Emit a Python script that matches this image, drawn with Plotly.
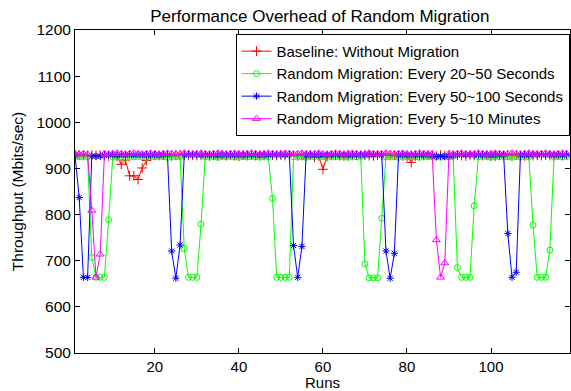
import plotly.graph_objects as go

runs = list(range(1, 119))

baseline = [
    928, 929, 928, 927, 929, 928, 929, 928, 927, 926,
    926, 909, 918, 884, 884, 876, 901, 917, 928,
    929, 928, 929, 928, 927, 929, 928, 929, 928, 929, 928,
    929, 928, 927, 929, 928, 929, 928, 929, 928, 927,
    929, 928, 929, 928, 929, 928, 927, 929, 928, 929,
    928, 929, 928, 927, 929, 928, 929, 924, 927,
    898,
    926, 928, 929, 928, 927, 929, 928, 929, 928, 929,
    928, 927, 929, 928, 929, 928, 929, 928, 927, 926,
    913,
    927, 929, 928, 929, 928, 927, 929, 928, 929,
    928, 929, 928, 927, 929, 928, 929, 928, 929, 928,
    927, 929, 928, 929, 928, 929, 928, 927, 929, 928,
    929, 928, 929, 928, 927, 929, 928, 929,
]

mig_20_50s = [
    926, 925, 926, 925,
    707, 664, 664, 664, 789,
    925, 926, 925, 924, 926, 925, 926, 925, 924, 926, 925, 926, 925, 924, 926, 925, 926,
    726, 664, 664, 664, 779,
    925, 926, 925, 924, 926, 925, 926, 925, 924, 926, 925, 926, 925, 924, 926, 925,
    835, 664, 664, 664, 664,
    925, 926, 925, 924, 926, 925, 926, 925, 924, 926, 925, 926, 925, 924, 926, 925, 926,
    693, 663, 663, 663, 792,
    925, 926, 925, 924, 926, 925, 926, 925, 924, 926, 925, 926, 925, 924, 926, 925, 926,
    685, 664, 664, 664, 819,
    925, 926, 925, 924, 926, 925, 926, 925, 924, 926, 925, 926, 925,
    777, 664, 664, 664, 723,
    925, 926, 925, 926,
]

mig_50_100s = [
    929,
    837, 664, 664,
    927, 926, 927, 928, 929, 930, 929, 930, 929, 930, 929, 930, 929, 930, 929, 930, 929, 930,
    930,
    721, 662, 734,
    929, 930, 929, 930, 929, 930, 929, 930, 929, 930, 929, 930, 929,
    930, 929, 930, 929, 930, 929, 930, 929, 930, 929, 930, 929, 930,
    733, 664, 731,
    929, 930, 929, 930, 929, 930, 929, 930, 929, 930, 929, 930, 929, 930, 929, 930, 929, 930, 929,
    721, 662, 716,
    929, 930, 929, 930, 929, 930, 929, 930, 927, 926, 927, 926, 927,
    928, 929, 930, 929, 930, 929, 930, 929, 930, 929, 930, 929, 930,
    759, 664, 675,
    929, 930, 929, 930, 929, 930, 929, 930, 929, 930, 929, 930,
]

mig_5_10min = [
    932, 931, 932, 931,
    809, 664, 714,
    932, 931, 932, 933, 932, 931, 932, 933, 932, 931,
    932, 933, 932, 931, 932, 933, 932, 931, 932, 933,
    932, 931, 932, 933, 932, 931, 932, 933, 932, 931,
    932, 933, 932, 931, 932, 933, 932, 931, 932, 933,
    932, 931, 932, 933, 932, 931, 932, 933, 932, 931,
    932, 933, 932, 931, 932, 933, 932, 931, 932, 933,
    932, 931, 932, 933, 932, 931, 932, 933, 932, 931,
    932, 933, 932, 931, 932, 933, 932, 931, 932,
    745, 664, 695,
    932, 931, 932, 933, 932, 931, 932, 933, 932, 931,
    932, 933, 932, 931, 932, 933, 932, 931, 932, 933,
    932, 931, 932, 933, 932, 931, 932, 933, 932,
]

for s in (baseline, mig_20_50s, mig_50_100s, mig_5_10min):
    assert len(s) == len(runs), len(s)

series_names = [
    "Baseline: Without Migration",
    "Random Migration: Every 20~50 Seconds",
    "Random Migration: Every 50~100 Seconds",
    "Random Migration: Every 5~10 Minutes",
]

x_ticks = [20, 40, 60, 80, 100]
y_ticks = [500, 600, 700, 800, 900, 1000, 1100, 1200]

FONT = "Liberation Sans, Arial, Helvetica, sans-serif"

fig = go.Figure()

styles = [
    (baseline, "#ff0000", "cross-thin", 7),
    (mig_20_50s, "#00ff00", "circle-open", 6),
    (mig_50_100s, "#0000ff", "asterisk-open", 6),
    (mig_5_10min, "#ff00ff", "triangle-up-open", 7),
]

for (vals, color, symbol, size), name in zip(styles, series_names):
    fig.add_trace(go.Scatter(
        x=runs, y=vals, name=name, mode="lines+markers",
        line=dict(color=color, width=1),
        marker=dict(symbol=symbol, size=size, color=color,
                    line=dict(color=color, width=1)),
    ))

fig.update_layout(
    width=571, height=391,
    margin=dict(l=75, r=0, t=30, b=36),
    paper_bgcolor="white", plot_bgcolor="white",
    font=dict(family=FONT, color="black"),
    title=dict(text="Performance Overhead of Random Migration",
               x=0.56, xanchor="center", y=0.96, yanchor="middle",
               font=dict(size=17, family=FONT, color="black")),
    showlegend=True,
    legend=dict(x=0.999, xanchor="right", y=0.988, yanchor="top",
                bgcolor="white", bordercolor="black", borderwidth=1,
                font=dict(size=15, family=FONT, color="black"),
                tracegroupgap=0, itemwidth=30),
)

fig.update_xaxes(
    range=[1, 118.8], tickvals=x_ticks,
    ticks="inside", ticklen=5, tickcolor="black",
    showline=True, linecolor="black", linewidth=1, mirror="ticks",
    showgrid=False, zeroline=False,
    tickfont=dict(size=15, family=FONT, color="black"),
    title=dict(text="Runs", font=dict(size=15, family=FONT, color="black"), standoff=5),
)
fig.update_yaxes(
    range=[500, 1200], tickvals=y_ticks,
    ticks="inside", ticklen=5, tickcolor="black",
    showline=True, linecolor="black", linewidth=1, mirror="ticks",
    showgrid=False, zeroline=False,
    tickfont=dict(size=15.5, family=FONT, color="black"),
    title=dict(text="Throughput (Mbits/sec)", font=dict(size=15.5, family=FONT, color="black"), standoff=8),
)

fig.write_html("out.html", config={"displayModeBar": False},
               post_script="document.body.style.margin='0px';")
